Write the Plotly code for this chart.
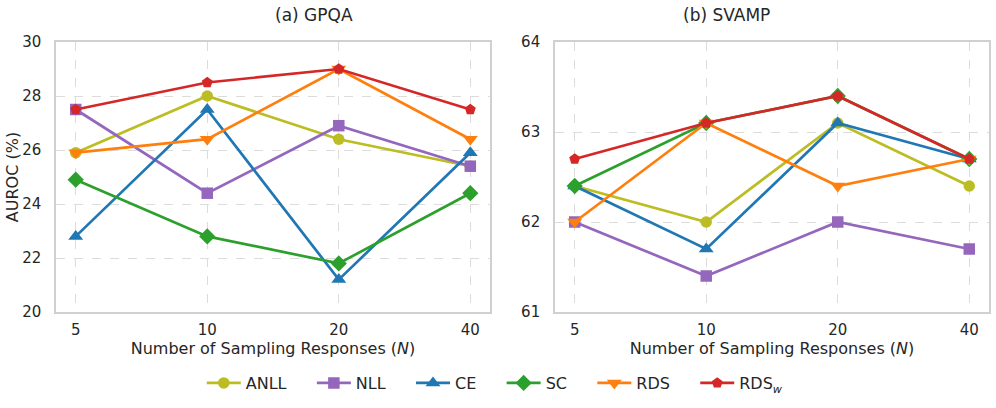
import plotly.graph_objects as go

n_labels = ["5", "10", "20", "40"]
methods = ["ANLL", "NLL", "CE", "SC", "RDS", "RDS<sub><i>w</i></sub>"]
colors = ["#bcbd22", "#9467bd", "#1f77b4", "#2ca02c", "#ff7f0e", "#d62728"]
symbols = ["circle", "square", "triangle-up", "diamond", "triangle-down", "pentagon"]
marker_sizes = [11.5, 11.5, 13, 12.5, 13, 11.5]

gpqa_anll = [25.9, 28.0, 26.4, 25.4]
gpqa_nll = [27.5, 24.4, 26.9, 25.4]
gpqa_ce = [22.8, 27.5, 21.2, 25.9]
gpqa_sc = [24.9, 22.8, 21.8, 24.4]
gpqa_rds = [25.9, 26.4, 29.0, 26.4]
gpqa_rdsw = [27.5, 28.5, 29.0, 27.5]

svamp_anll = [62.4, 62.0, 63.1, 62.4]
svamp_nll = [62.0, 61.4, 62.0, 61.7]
svamp_ce = [62.4, 61.7, 63.1, 62.7]
svamp_sc = [62.4, 63.1, 63.4, 62.7]
svamp_rds = [62.0, 63.1, 62.4, 62.7]
svamp_rdsw = [62.7, 63.1, 63.4, 62.7]

gpqa = [gpqa_anll, gpqa_nll, gpqa_ce, gpqa_sc, gpqa_rds, gpqa_rdsw]
svamp = [svamp_anll, svamp_nll, svamp_ce, svamp_sc, svamp_rds, svamp_rdsw]

FONT = "DejaVu Sans"
TXT = "#262626"
PAD = "\u00a0\u00a0\u00a0\u00a0"

fig = go.Figure()
xs = list(range(len(n_labels)))
for i, m in enumerate(methods):
    for data, xa, ya, show in [(gpqa, "x", "y", True), (svamp, "x2", "y2", False)]:
        fig.add_trace(go.Scatter(
            x=xs, y=data[i], xaxis=xa, yaxis=ya, name=m + PAD, legendgroup=m,
            showlegend=show, mode="lines+markers",
            line=dict(color=colors[i], width=2.7),
            marker=dict(symbol=symbols[i], size=marker_sizes[i],
                        color=colors[i], line=dict(width=0)),
        ))

axis_common = dict(
    showline=True, linecolor="#d0d0d0", linewidth=1.5, mirror=True,
    showgrid=True, gridcolor="#dcdcdc", griddash="dash", gridwidth=1,
    zeroline=False, ticks="", automargin=False,
    tickfont=dict(family=FONT, size=15, color=TXT),
)
xcommon = dict(axis_common, tickmode="array", tickvals=xs, ticktext=n_labels,
               range=[-0.15, 3.15], ticklabelstandoff=3,
               title=dict(text="Number of Sampling Responses (<i>N</i>)",
                          font=dict(family=FONT, size=16, color=TXT), standoff=2))
fig.update_layout(
    width=996, height=408,
    margin=dict(l=56, r=7, t=42, b=96),
    paper_bgcolor="white", plot_bgcolor="white",
    font=dict(family=FONT, color=TXT),
    xaxis=dict(xcommon, domain=[0, 0.4652], anchor="y"),
    xaxis2=dict(xcommon, domain=[0.5348, 1.0], anchor="y2"),
    yaxis=dict(axis_common, range=[20, 30], tickvals=[20, 22, 24, 26, 28, 30],
               anchor="x", ticklabelstandoff=10,
               title=dict(text="AUROC (%)", font=dict(family=FONT, size=16, color=TXT), standoff=0)),
    yaxis2=dict(axis_common, range=[61, 64], tickvals=[61, 62, 63, 64], anchor="x2",
                ticklabelstandoff=10),
    legend=dict(orientation="h", x=0.481, xanchor="center", y=-0.263, yanchor="middle",
                font=dict(family=FONT, size=16, color=TXT), itemwidth=34,
                traceorder="normal"),
    annotations=[
        dict(text="(a) GPQA", x=0.2326, xref="paper", y=1.0, yref="paper",
             yshift=27, yanchor="middle", showarrow=False,
             font=dict(family=FONT, size=17, color=TXT)),
        dict(text="(b) SVAMP", x=0.7674, xref="paper", y=1.0, yref="paper",
             yshift=27, yanchor="middle", showarrow=False,
             font=dict(family=FONT, size=17, color=TXT)),
    ],
)
fig.write_html("out.html", config={"displayModeBar": False},
               post_script="document.body.style.margin='0';")
